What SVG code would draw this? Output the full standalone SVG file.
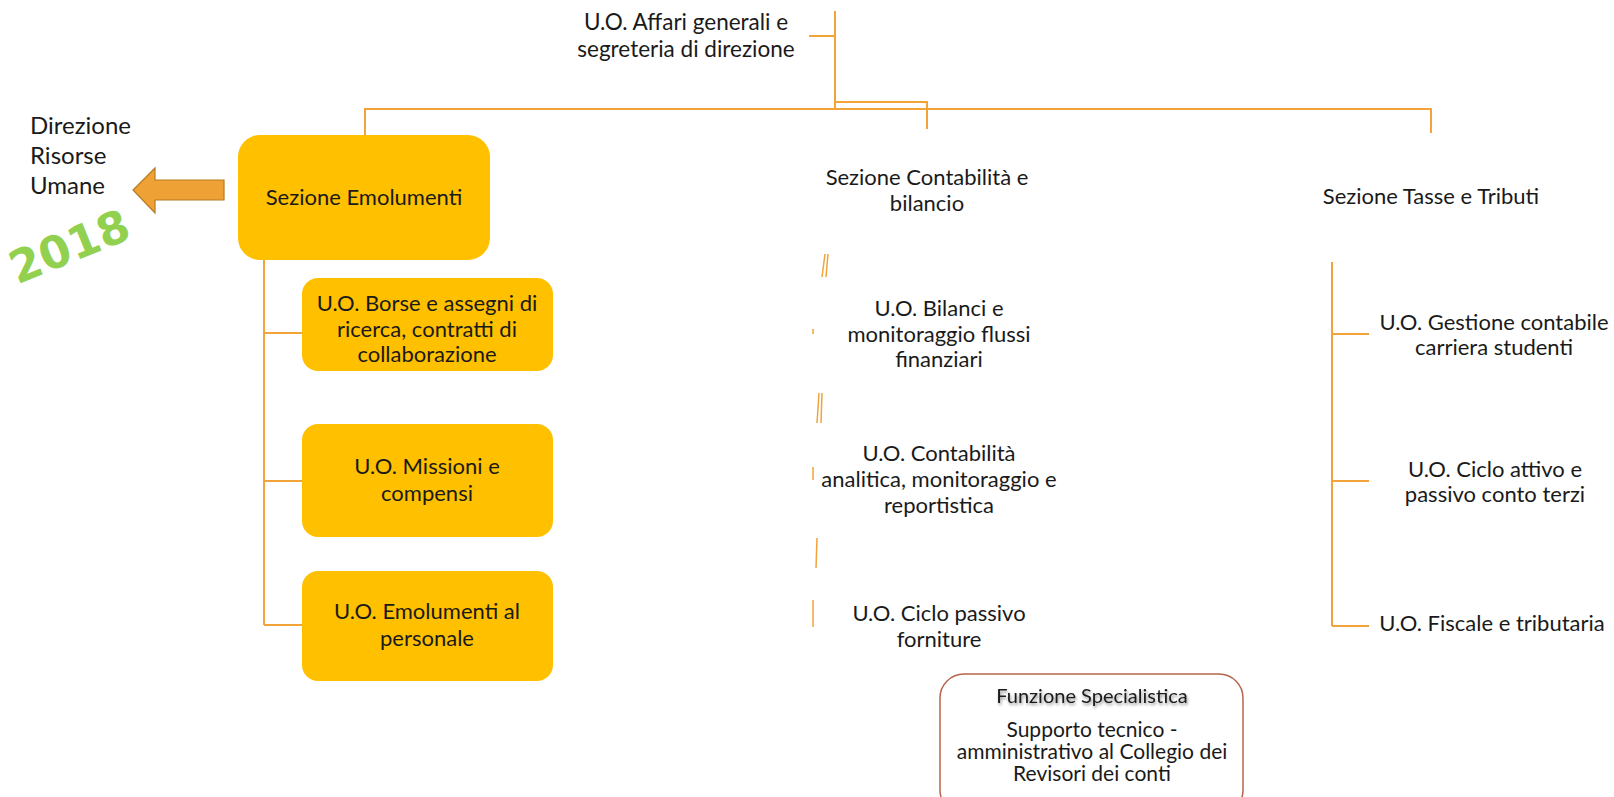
<svg xmlns="http://www.w3.org/2000/svg" width="1614" height="797" viewBox="0 0 1614 797">
<defs>
<style>
text{font-family:Lato,"Open Sans","Liberation Sans",sans-serif;font-size:22px;fill:#1a1a1a;text-anchor:middle}
.con{stroke:#F2A33A;stroke-width:2;fill:none}
.art{stroke:#F2A33A;stroke-width:1.5;fill:none}
.box{fill:#FFC000}
.spec{fill:#fff;stroke:#B5654C;stroke-width:1.5}
.yr{font-family:"DejaVu Sans",sans-serif;font-weight:bold;font-size:45px;fill:#92D050}
</style>
<filter id="shadow" x="-10%" y="-30%" width="120%" height="160%">
<feGaussianBlur in="SourceAlpha" stdDeviation="1.5"/>
<feOffset dx="1" dy="1.5" result="b"/>
<feComponentTransfer><feFuncA type="linear" slope="0.45"/></feComponentTransfer>
<feMerge><feMergeNode/><feMergeNode in="SourceGraphic"/></feMerge>
</filter>
</defs>
<g id="connectors">
<path class="con" d="M835 11V109M809 36H835"/>
<path class="con" d="M835 102H927V129"/>
<path class="con" d="M365 135V109H1431V133"/>
<path class="con" d="M264 260V625M264 333H302M264 481H302M264 625H302"/>
<path class="con" d="M1332 262V626M1332 334H1369M1332 481H1369M1332 626H1369"/>
</g>
<g id="artifacts">
<path class="art" d="M822 277L825 254M826 277L828 254"/>
<path class="art" d="M813 329V334"/>
<path class="art" d="M817 423L819 393M821 423L822 393"/>
<path class="art" d="M813 467V480"/>
<path class="art" d="M816 568L817 538"/>
<path class="art" d="M813 600V627"/>
</g>
<g id="affari"><text x="686" y="30" style="font-size:22.5px">U.O. Affari generali e</text><text x="686" y="57" style="font-size:22.5px">segreteria di direzione</text></g>
<g id="direzione">
<text x="30" y="134" style="text-anchor:start;font-size:24px">Direzione</text>
<text x="30" y="164" style="text-anchor:start;font-size:24px">Risorse</text>
<text x="30" y="194" style="text-anchor:start;font-size:24px">Umane</text>
</g>
<g id="arrow"><path d="M224 180V200H155V213L133 190L155 168V180Z" fill="#EEA236" stroke="#B77A1E" stroke-width="1.2"/></g>
<g id="year"><text class="yr" x="70" y="262" transform="rotate(-22 70 248)">2018</text></g>
<g id="sez-emolumenti"><rect class="box" x="238" y="135" width="252" height="125" rx="22"/><text x="364" y="205">Sezione Emolumenti</text></g>
<g id="uo-borse"><rect class="box" x="302" y="278" width="251" height="93" rx="16"/><text x="427" y="311">U.O. Borse e assegni di</text><text x="427" y="337">ricerca, contratti di</text><text x="427" y="362">collaborazione</text></g>
<g id="uo-missioni"><rect class="box" x="302" y="424" width="251" height="113" rx="16"/><text x="427" y="474">U.O. Missioni e</text><text x="427" y="501">compensi</text></g>
<g id="uo-emol-pers"><rect class="box" x="302" y="571" width="251" height="110" rx="16"/><text x="427" y="619">U.O. Emolumenti al</text><text x="427" y="646">personale</text></g>
<g id="sez-contabilita"><text x="927" y="185">Sezione Contabilità e</text><text x="927" y="211">bilancio</text></g>
<g id="uo-bilanci"><text x="939" y="316">U.O. Bilanci e</text><text x="939" y="342">monitoraggio flussi</text><text x="939" y="367">finanziari</text></g>
<g id="uo-contab-analitica"><text x="939" y="461">U.O. Contabilità</text><text x="939" y="487">analitica, monitoraggio e</text><text x="939" y="513">reportistica</text></g>
<g id="uo-ciclo-passivo"><text x="939" y="621">U.O. Ciclo passivo</text><text x="939" y="647">forniture</text></g>
<g id="sez-tasse"><text x="1431" y="204">Sezione Tasse e Tributi</text></g>
<g id="uo-gestione"><text x="1494" y="330">U.O. Gestione contabile</text><text x="1494" y="355">carriera studenti</text></g>
<g id="uo-ciclo-attivo"><text x="1495" y="477">U.O. Ciclo attivo e</text><text x="1495" y="502">passivo conto terzi</text></g>
<g id="uo-fiscale"><text x="1492" y="631">U.O. Fiscale e tributaria</text></g>
<g id="funzione-specialistica">
<rect class="spec" x="940" y="674" width="303" height="140" rx="24"/>
<text x="1092" y="703" style="font-size:20px" filter="url(#shadow)">Funzione Specialistica</text>
<text x="1092" y="737" style="font-size:21px">Supporto tecnico -</text>
<text x="1092" y="759" style="font-size:21px">amministrativo al Collegio dei</text>
<text x="1092" y="781" style="font-size:21px">Revisori dei conti</text>
</g>
</svg>
